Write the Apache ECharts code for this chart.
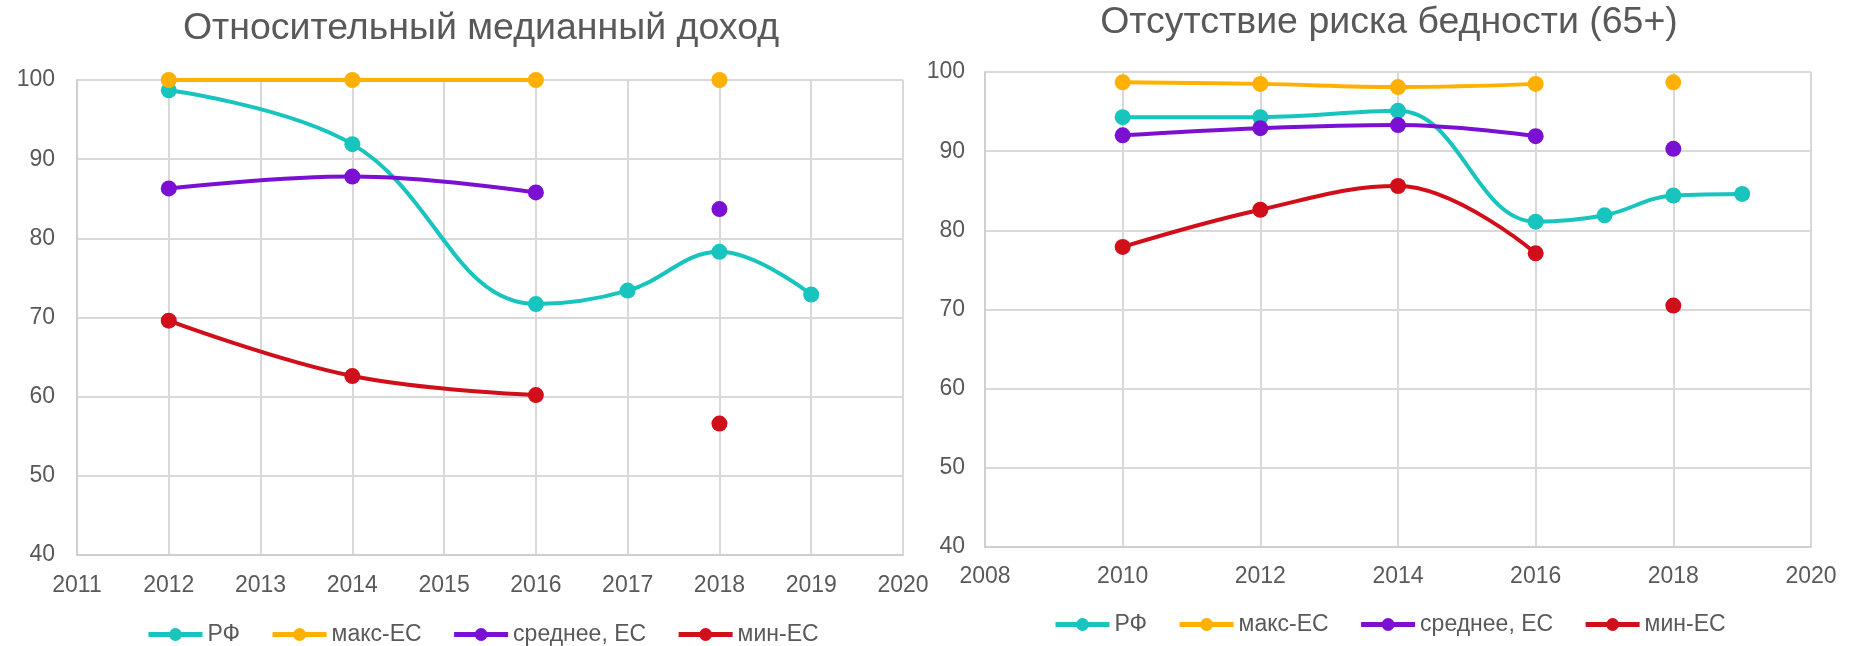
<!DOCTYPE html>
<html>
<head>
<meta charset="utf-8">
<script src="https://cdn.jsdelivr.net/npm/echarts@6/dist/echarts.min.js"></script>
<style>
  html, body { margin: 0; padding: 0; background: #fff; }
  #main { width: 1861px; height: 646px; }
</style>
</head>
<body>
<div id="main"></div>
<script>
// left chart: relative median income
var yearsL = [2012, 2014, 2016, 2017, 2018, 2019];
var rfL = [98.7, 91.9, 71.7, 73.4, 78.3, 72.9];
var maxL = [100, 100, 100, null, 100, null];
var avgL = [86.3, 87.8, 85.8, null, 83.7, null];
var minL = [69.6, 62.6, 60.2, null, 56.6, null];

// right chart: no poverty risk 65+
var yearsR = [2010, 2012, 2014, 2016, 2017, 2018, 2019];
var rfR = [94.3, 94.3, 95.1, 81.1, 81.9, 84.4, 84.6];
var maxR = [98.7, 98.5, 98.1, 98.5, null, 98.7, null];
var avgR = [92.0, 92.9, 93.3, 91.9, null, 90.3, null];
var minR = [77.9, 82.6, 85.6, 77.1, null, 70.5, null];

var names = ['РФ', 'макс-ЕС', 'среднее, ЕС', 'мин-ЕС'];
var colors = ['#17c4be', '#ffb000', '#7b10d2', '#d10f1b'];
var font = "'Liberation Sans', Arial, sans-serif";
var textColor = '#595959';
var gridColor = '#d9d9d9';

function pairs(xs, ys) {
  return xs.map(function (x, i) {
    return [x, ys[i] == null ? '-' : ys[i]];
  });
}

function xAxis(idx, min, max, interval, margin) {
  return {
    type: 'value', gridIndex: idx, min: min, max: max, interval: interval,
    axisLine: { show: true, lineStyle: { color: '#cfcfcf', width: 2 } },
    axisTick: { show: false },
    axisLabel: {
      color: textColor, fontSize: 23, fontFamily: font, margin: margin,
      formatter: function (v) { return String(v); }
    },
    splitLine: { show: true, lineStyle: { color: gridColor, width: 2 } }
  };
}

function yAxis(idx, margin) {
  return {
    type: 'value', gridIndex: idx, min: 40, max: 100, interval: 10,
    axisLine: { show: true, lineStyle: { color: '#cfcfcf', width: 2 } },
    axisTick: { show: false },
    axisLabel: { color: textColor, fontSize: 23, fontFamily: font, margin: margin },
    splitLine: { show: true, lineStyle: { color: gridColor, width: 2 } }
  };
}

function makeSeries(idx, xs, lists) {
  return lists.map(function (ys, i) {
    return {
      name: names[i],
      type: 'line',
      xAxisIndex: idx,
      yAxisIndex: idx,
      data: pairs(xs, ys),
      smooth: 0.4,
      symbol: 'circle',
      symbolSize: 16,
      showAllSymbol: true,
      color: colors[i],
      lineStyle: { width: 4, color: colors[i] },
      itemStyle: { color: colors[i] }
    };
  });
}

function legend(left, top) {
  return {
    data: names,
    left: left,
    top: top,
    padding: 0,
    itemWidth: 54,
    itemHeight: 16,
    itemGap: 30,
    lineStyle: { width: 5 },
    textStyle: { color: textColor, fontSize: 23, fontFamily: font }
  };
}

var chart = echarts.init(document.getElementById('main'));
var option = {
  animation: false,
  backgroundColor: '#fff',
  title: [
    {
      text: 'Относительный медианный доход',
      left: 481, top: 10, textAlign: 'center', padding: 0,
      textStyle: { color: textColor, fontSize: 37.5, fontWeight: 'normal', fontFamily: font }
    },
    {
      text: 'Отсутствие риска бедности (65+)',
      left: 1389, top: 4, textAlign: 'center', padding: 0,
      textStyle: { color: textColor, fontSize: 37.5, fontWeight: 'normal', fontFamily: font }
    }
  ],
  legend: [legend(146, 623), legend(1053, 613)],
  grid: [
    { left: 77, right: 958, top: 80, bottom: 91 },
    { left: 985, right: 50, top: 72, bottom: 99 }
  ],
  xAxis: [xAxis(0, 2011, 2020, 1, 19), xAxis(1, 2008, 2020, 2, 18)],
  yAxis: [yAxis(0, 22), yAxis(1, 20)],
  series: makeSeries(0, yearsL, [rfL, maxL, avgL, minL])
    .concat(makeSeries(1, yearsR, [rfR, maxR, avgR, minR]))
};
option && chart.setOption(option);
</script>
</body>
</html>
